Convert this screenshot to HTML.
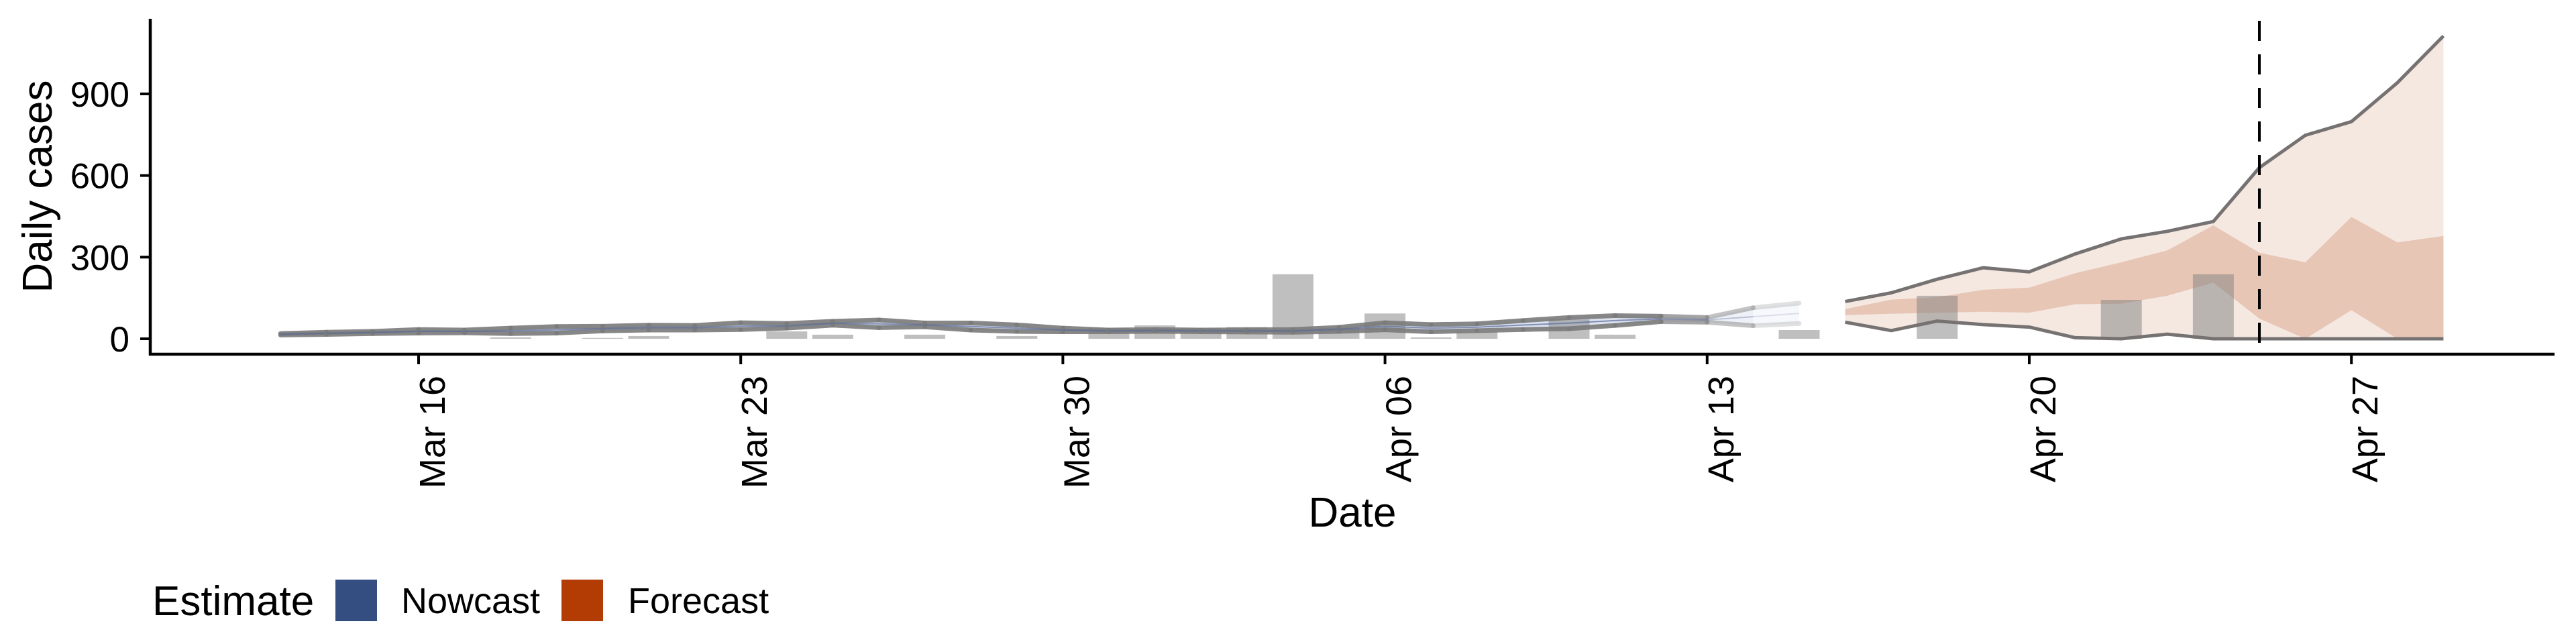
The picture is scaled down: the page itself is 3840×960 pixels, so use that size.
<!DOCTYPE html>
<html><head><meta charset="utf-8"><style>
html,body{margin:0;padding:0;background:#fff}
svg{display:block;font-family:"Liberation Sans",Arial,sans-serif}
</style></head><body>
<svg id="chart" width="3840" height="960" viewBox="0 0 3840 960" xmlns="http://www.w3.org/2000/svg">
<g id="bands"></g>
<g id="bars"></g>
<g id="lines"></g>
<g id="axes"></g>
<text transform="translate(77,278) rotate(-90)" text-anchor="middle" font-size="62">Daily cases</text>
<text x="2016" y="785" text-anchor="middle" font-size="62">Date</text>
<g>
<text x="227" y="917" font-size="62">Estimate</text>
<rect x="500" y="864" width="62" height="62" fill="#354e82"/>
<text x="598" y="914" font-size="54">Nowcast</text>
<rect x="837" y="864" width="62" height="62" fill="#b33c05"/>
<text x="936" y="914" font-size="54">Forecast</text>
</g>
</svg>
<script>
const tickDays = [0,7,14,21,28,35,42];
const tickLabels = ["Mar 16","Mar 23","Mar 30","Apr 06","Apr 13","Apr 20","Apr 27"];
const yTicks = [0,300,600,900];
const nowStart = -3;
const nowUpper = [19,24,27,34,32,39,45,46,50,49,59,56,64,69,58,58,51,39,32,34,32,33,34,42,59,52,55,67,78,85,83,78,114,131];
const nowLower = [14,16,19,21,22,19,21,29,32,32,34,39,50,41,44,32,27,26,26,27,26,25,24,27,33,26,30,34,37,49,63,61,48,56];
const fcStart = 31;
const fcUpper90 = [137,169,219,261,246,312,367,395,431,629,748,798,941,1113];
const fcLower90 = [61,30,65,52,43,4,0,17,0,0,0,0,0,0];
const fcUpper50 = [109,144,153,180,188,241,281,325,417,316,281,448,354,378];
const fcLower50 = [87,92,96,99,96,127,129,158,206,74,0,105,0,0];
const barDays = [2,4,5,8,9,11,13,15,16,17,18,19,20,21,22,23,25,26,30,33,37,39];
const barValues = [5,3,10,27,15,15,10,40,49,39,43,237,40,93,5,26,71,15,32,158,143,237];
const forecastDate = 40;

const NS="http://www.w3.org/2000/svg";
const X0=624, DX=68.6, Y0=505, KY=0.4056;
const xs=d=>X0+d*DX, ys=v=>Y0-v*KY;
function mk(tag,attrs,parent){const e=document.createElementNS(NS,tag);for(const k in attrs)e.setAttribute(k,attrs[k]);parent.appendChild(e);return e;}
const bands=document.getElementById('bands'),bars=document.getElementById('bars'),lines=document.getElementById('lines'),axes=document.getElementById('axes');

function area(start,up,lo,fill,op,name){
  let p=up.map((v,i)=>xs(start+i).toFixed(1)+','+ys(v).toFixed(1));
  for(let i=lo.length-1;i>=0;i--)p.push(xs(start+i).toFixed(1)+','+ys(lo[i]).toFixed(1));
  const e=mk('polygon',{points:p.join(' '),fill:fill,'fill-opacity':op},bands);
  
  
}
function fadeOp(d){return d<=27?1:Math.max(0.15,1-(d-27)*0.25);}
for(let i=0;i<nowUpper.length-1;i++){
  const d=nowStart+i,o=fadeOp(d+1);
  const p=[[xs(d),ys(nowUpper[i])],[xs(d+1),ys(nowUpper[i+1])],[xs(d+1),ys(nowLower[i+1])],[xs(d),ys(nowLower[i])]].map(a=>a[0].toFixed(1)+','+a[1].toFixed(1)).join(' ');
  const e=mk('polygon',{points:p,fill:'#dde3ef','fill-opacity':o},bands);
  
  
}
area(fcStart,fcUpper90,fcLower90,'#f4e8e1',1,'forecast-band-90');
area(fcStart,fcUpper50,fcLower50,'#e8c6b6',1,'forecast-band-50');

barDays.forEach((d,i)=>{
  const e=mk('rect',{x:(xs(d)-30.5).toFixed(1),y:ys(barValues[i]).toFixed(1),width:61,height:(barValues[i]*KY).toFixed(1),fill:'#7f7f7f','fill-opacity':0.5},bars);
  
  
});

for(let i=0;i<nowUpper.length-1;i++){
  const d=nowStart+i,o=fadeOp(d+1)*0.9;
  [[nowUpper,'nowcast-upper-line'],[nowLower,'nowcast-lower-line']].forEach(([arr,nm])=>{
    const e=mk('line',{x1:xs(d),y1:ys(arr[i]),x2:xs(d+1),y2:ys(arr[i+1]),stroke:'#7a7a7a','stroke-width':7,'stroke-opacity':o,'stroke-linecap':'round'},lines);
    
    
  });
  const m1=(nowUpper[i]+nowLower[i])/2,m2=(nowUpper[i+1]+nowLower[i+1])/2;
  const e=mk('line',{x1:xs(d),y1:ys(m1),x2:xs(d+1),y2:ys(m2),stroke:'#5b6d9c','stroke-width':2,'stroke-opacity':o*0.8},lines);
  
  
}
function pl(start,arr,name){
  const e=mk('polyline',{points:arr.map((v,i)=>xs(start+i).toFixed(1)+','+ys(v).toFixed(1)).join(' '),fill:'none',stroke:'#767272','stroke-width':5,'stroke-linejoin':'round'},lines);
  
  
}
pl(fcStart,fcUpper90,'forecast-upper-line');
pl(fcStart,fcLower90,'forecast-lower-line');

const dl=mk('line',{x1:xs(forecastDate),y1:31,x2:xs(forecastDate),y2:528,stroke:'#000','stroke-width':4,'stroke-dasharray':'30 20'},lines);



const ya=mk('line',{x1:224,y1:28,x2:224,y2:530,stroke:'#000','stroke-width':4.5},axes);


const xa=mk('line',{x1:222,y1:528,x2:3808,y2:528,stroke:'#000','stroke-width':4.5},axes);


yTicks.forEach(v=>{
  const t=mk('line',{x1:209,y1:ys(v),x2:224,y2:ys(v),stroke:'#000','stroke-width':4},axes);
  
  
  const l=mk('text',{x:193,y:ys(v)+19,'text-anchor':'end','font-size':53},axes);
  l.textContent=String(v);
  
  
});
tickDays.forEach((d,i)=>{
  const x=xs(d);
  const t=mk('line',{x1:x,y1:528,x2:x,y2:543,stroke:'#000','stroke-width':4},axes);
  
  
  const l=mk('text',{transform:'translate('+(x+39).toFixed(1)+',560) rotate(-90)','text-anchor':'end','font-size':54},axes);
  l.textContent=tickLabels[i];
  
  
});
</script>
</body></html>
